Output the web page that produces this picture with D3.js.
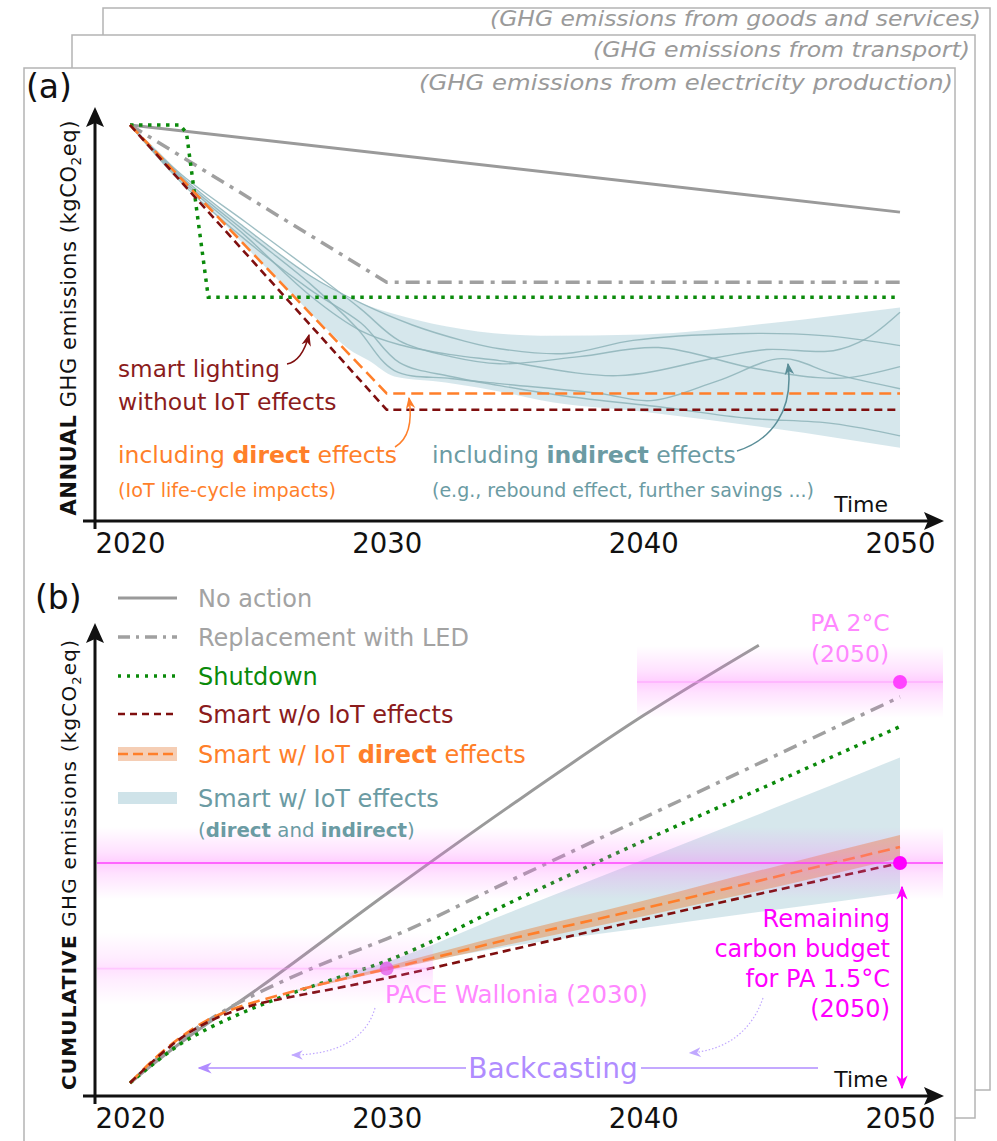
<!DOCTYPE html>
<html>
<head>
<meta charset="utf-8">
<script src="https://d3js.org/d3.v7.min.js"></script>
<style>
body { margin: 0; background: #fff; }
text { font-family: "DejaVu Sans", Verdana, sans-serif; }
.hdr { font-style: italic; fill: #9a9a9a; font-size: 22px; }
</style>
</head>
<body>
<svg width="997" height="1141"></svg>
<script>

// ---- data ----
var tickYears = [2020, 2030, 2040, 2050];
var layerTitles = ["(GHG emissions from goods and services)", "(GHG emissions from transport)", "(GHG emissions from electricity production)"];

// (a) annual emissions, index 2020 = 100
var noActionA = [[2020, 100], [2050, 78]];
var ledA = [[2020, 100], [2030, 60.3], [2050, 60.3]];
var shutdownA = [[2020, 100], [2021.95, 100], [2022.2, 98], [2023.05, 56.5], [2050, 56.5]];
var smartA = [[2020, 100], [2030, 28.1], [2050, 28.1]];
var directA = [[2020, 100], [2030, 32.2], [2050, 32.2]];
var bandYearsA = [2020, 2021, 2022.7, 2024.7, 2026.2, 2027.5, 2028.5, 2029.3, 2030.3, 2032.3, 2034.8, 2036, 2040, 2045, 2050];
var bandUpperA = [100, 94, 83, 73, 65.5, 60.2, 56.3, 54.3, 52.3, 49.2, 47.1, 46.8, 47.1, 50, 53.9];
var bandLowerA = [100, 93, 81.7, 68, 58, 49.5, 43.5, 40.5, 36.5, 35, 32.2, 30.5, 27.6, 23.4, 18.5];
var indirectA = [
  [[2020, 100], [2022, 87], [2024.5, 74], [2027, 62], [2029, 55], [2031, 49.5], [2033, 45.5], [2034.4, 43.5], [2037, 42.3], [2039.6, 45.6], [2043.5, 47.3], [2047, 46.8], [2050, 44.3]],
  [[2020, 100], [2022, 86], [2024.5, 72], [2027, 57], [2029, 48], [2030.5, 44.5], [2032.5, 42], [2034.4, 40.5], [2039, 36.7], [2042.9, 41.3], [2044.8, 43.3], [2047.4, 43], [2048.7, 46.1], [2050, 52.7]],
  [[2020, 100], [2022, 87.5], [2024.5, 75.5], [2027, 63.5], [2029, 53.5], [2030.5, 45.5], [2032.5, 41.5], [2034.4, 39.7], [2037.5, 41.5], [2040.6, 43.8], [2044.2, 38.7], [2046.8, 36.2], [2048, 36.2], [2050, 39]],
  [[2020, 100], [2022, 86.5], [2024.5, 73], [2027, 60], [2028.8, 49], [2030.3, 38], [2032.5, 36], [2034.4, 34.7], [2038.3, 32.2], [2040.3, 30.4], [2042.9, 35.4], [2045.4, 41], [2047.4, 37.2], [2050, 33.4]],
  [[2020, 100], [2022, 85.5], [2024.5, 71], [2027, 58.5], [2029, 50], [2030.5, 40], [2032.5, 36.5], [2034.4, 34.2], [2037, 31.5], [2040.9, 28.6], [2044, 26], [2047.4, 24.6], [2050, 21.5]]
];

// (b) cumulative emissions, PA 1.5°C budget = 100
var noActionYears = [2020, 2021, 2022, 2025, 2030, 2035, 2040, 2044.5];
var noActionCum = [0, 9.5, 18.5, 43, 86, 127.5, 167, 199];
var yearsB = [2020, 2021, 2022, 2023, 2024, 2025, 2026, 2028, 2030, 2035, 2040, 2045, 2050];
var ledCum = [0, 10.5, 20, 28, 35, 41, 46.5, 56.5, 65.5, 93, 120.5, 148, 175.5];
var shutdownCum = [0, 9.5, 18, 24.5, 30, 35, 39.5, 47.5, 55.5, 83, 110, 136, 162];
var smartCum = [0, 11, 20.5, 27.5, 32.5, 36, 38.5, 43, 47.7, 61, 74.3, 87.2, 100];
var directCum = [0, 11.5, 21, 28.5, 33.5, 37.3, 40.5, 46.5, 51.8, 66, 79.3, 93.3, 107.3];
var directBandYears = [2026, 2030, 2035, 2040, 2045, 2050];
var directLow = [40.5, 51, 63.5, 75.8, 88.6, 102.3];
var directHigh = [40.5, 53, 68.5, 82.8, 98, 112.7];
var bandYearsB = [2026, 2028, 2030, 2035, 2040, 2045, 2050];
var bandUpperB = [40.5, 48, 55, 78.5, 101.5, 124.5, 148];
var bandLowerB = [40.5, 46.5, 51.5, 62.5, 70.5, 78.5, 86.4];
var targets = { pa15: 100, pa2: 182.3, pace: 52 };

var legendLabels = ["No action", "Replacement with LED", "Shutdown", "Smart w/o IoT effects", "Smart w/ IoT direct effects", "Smart w/ IoT effects"];

// ---- styles ----
var C = {
  grey: "#9a9a9a", greyTxt: "#a3a3a3", green: "#0a8a0a", red: "#7f0f0f", redTxt: "#8b1c1c",
  orange: "#ff7f2a", teal: "#6b9ba3", band: "#cfe3e9", thin: "#8db3b9",
  mag: "#ff00ff", pink: "#ff88ff", lav: "#b08cff"
};

var svg = d3.select("svg");
var defs = svg.append("defs");

function marker(id, color, size) {
  defs.append("marker").attr("id", id).attr("viewBox", "0 0 10 10")
    .attr("refX", 9).attr("refY", 5).attr("markerWidth", size).attr("markerHeight", size)
    .attr("orient", "auto-start-reverse").attr("markerUnits", "userSpaceOnUse")
    .append("path").attr("d", "M0,1 L10,5 L0,9 L3,5 Z").attr("fill", color);
}
marker("mRed", C.red, 12);
marker("mOrange", C.orange, 12);
marker("mTeal", "#5a8e98", 12);
marker("mLav", C.lav, 14);
marker("mLavS", "#c0a8ff", 12);
marker("mMag", C.mag, 14);

function glow(id, op) {
  var g = defs.append("linearGradient").attr("id", id).attr("x1", 0).attr("x2", 0).attr("y1", 0).attr("y2", 1);
  g.append("stop").attr("offset", "0%").attr("stop-color", "#ff66ff").attr("stop-opacity", 0);
  g.append("stop").attr("offset", "35%").attr("stop-color", "#ff66ff").attr("stop-opacity", op * 0.6);
  g.append("stop").attr("offset", "50%").attr("stop-color", "#ff66ff").attr("stop-opacity", op);
  g.append("stop").attr("offset", "65%").attr("stop-color", "#ff66ff").attr("stop-opacity", op * 0.6);
  g.append("stop").attr("offset", "100%").attr("stop-color", "#ff66ff").attr("stop-opacity", 0);
}
glow("gStrong", 0.32);
glow("gWeak", 0.2);

// stacked layer frames: x, y, w, h, title end x, title baseline, title length
var frames = [[103, 8, 887, 1082, 981, 26, 491], [72, 35, 903, 1083, 970, 57, 377], [24, 68, 931, 1100, 953, 90, 534]];
frames.forEach(function(f, i) {
  svg.append("rect").attr("x", f[0]).attr("y", f[1]).attr("width", f[2]).attr("height", f[3])
    .attr("fill", "#fff").attr("stroke", "#b4b4b4").attr("stroke-width", 1.5);
  svg.append("text").attr("class", "hdr").attr("x", f[4] - f[6]).attr("y", f[5])
    .attr("textLength", f[6]).attr("lengthAdjust", "spacingAndGlyphs").text(layerTitles[i]);
});

// ---- scales ----
var x = d3.scaleLinear().domain([2020, 2050]).range([130, 900]);
var yA = d3.scaleLinear().domain([0, 100]).range([521, 125]);
var yB = d3.scaleLinear().domain([0, 100]).range([1083, 863]);

function pairLine(ys, curve) {
  return d3.line().x(function(d) { return x(d[0]); }).y(function(d) { return ys(d[1]); }).curve(curve || d3.curveLinear);
}
function zip(a, b) { return a.map(function(v, i) { return [v, b[i]]; }); }

function drawAxes(y0, top, label, boldWord, midY, labLen, labSize) {
  var g = svg.append("g");
  g.append("g").attr("transform", "translate(0," + y0 + ")")
    .call(d3.axisBottom(x).tickValues(tickYears).tickFormat(d3.format("d")).tickSize(0).tickPadding(12))
    .call(function(s) { s.select(".domain").remove(); })
    .selectAll("text").attr("font-size", 27.5).attr("fill", "#111")
    .attr("font-family", "DejaVu Sans, sans-serif");
  g.append("line").attr("x1", 83).attr("x2", 930).attr("y1", y0).attr("y2", y0).attr("stroke", "#111").attr("stroke-width", 3);
  g.append("path").attr("d", "M944," + y0 + " L924," + (y0 - 9) + " L928," + y0 + " L924," + (y0 + 9) + " Z").attr("fill", "#111");
  g.append("line").attr("x1", 95).attr("x2", 95).attr("y1", y0 + 8).attr("y2", top + 12).attr("stroke", "#111").attr("stroke-width", 3);
  g.append("path").attr("d", "M95," + top + " L86," + (top + 20) + " L95," + (top + 16) + " L104," + (top + 20) + " Z").attr("fill", "#111");
  g.append("text").attr("x", 888).attr("y", y0 - 9).attr("text-anchor", "end").attr("font-size", 22).attr("fill", "#111").text("Time");
  var t = g.append("text").attr("transform", "translate(76," + (midY + labLen / 2) + ") rotate(-90)")
    .attr("font-size", labSize).attr("fill", "#111")
    .attr("textLength", labLen).attr("lengthAdjust", "spacing");
  t.append("tspan").attr("font-weight", "bold").text(boldWord);
  t.append("tspan").text(label);
  t.append("tspan").attr("font-size", labSize * 0.65).attr("dy", 5).text("2");
  t.append("tspan").attr("dy", -5).text("eq)");
}

// ---- panel (a) ----
svg.append("text").attr("x", 26).attr("y", 98).attr("font-size", 33).attr("fill", "#111").text("(a)");
drawAxes(521, 107, " GHG emissions (kgCO", "ANNUAL", 318, 395, 21);

var gA = svg.append("g");
gA.append("path")
  .datum(bandYearsA.map(function(yr, i) { return { yr: yr, lo: bandLowerA[i], hi: bandUpperA[i] }; }))
  .attr("d", d3.area().x(function(d) { return x(d.yr); }).y0(function(d) { return yA(d.lo); }).y1(function(d) { return yA(d.hi); }).curve(d3.curveMonotoneX))
  .attr("fill", C.band).attr("opacity", 0.85);
gA.selectAll(".thin").data(indirectA).enter().append("path")
  .attr("d", pairLine(yA, d3.curveCatmullRom.alpha(0.5)))
  .attr("fill", "none").attr("stroke", C.thin).attr("stroke-width", 1.4).attr("opacity", 0.85);

gA.append("path").attr("d", pairLine(yA)(noActionA)).attr("fill", "none").attr("stroke", C.grey).attr("stroke-width", 3);
gA.append("path").attr("d", pairLine(yA)(ledA)).attr("fill", "none").attr("stroke", "#a0a0a0").attr("stroke-width", 3.5).attr("stroke-dasharray", "14,7,4,7");
gA.append("path").attr("d", pairLine(yA)(shutdownA)).attr("fill", "none").attr("stroke", C.green).attr("stroke-width", 3.5).attr("stroke-dasharray", "3.5,5.5");
gA.append("path").attr("d", pairLine(yA)(directA)).attr("fill", "none").attr("stroke", C.orange).attr("stroke-width", 2.6).attr("stroke-dasharray", "12,6");
gA.append("path").attr("d", pairLine(yA)(smartA)).attr("fill", "none").attr("stroke", C.red).attr("stroke-width", 2.6).attr("stroke-dasharray", "8,5");

// annotations (a)
var ann = svg.append("g").attr("font-size", 23.5);
ann.append("text").attr("x", 118).attr("y", 377).attr("fill", C.redTxt)
  .attr("textLength", 162).attr("lengthAdjust", "spacingAndGlyphs").text("smart lighting");
ann.append("text").attr("x", 118).attr("y", 410).attr("fill", C.redTxt).text("without IoT effects");
ann.append("path").attr("d", "M287,364 C298,362 305,350 309,335").attr("fill", "none").attr("stroke", C.red).attr("stroke-width", 1.5).attr("marker-end", "url(#mRed)");

var t1 = ann.append("text").attr("x", 118).attr("y", 463).attr("fill", C.orange);
t1.append("tspan").text("including ");
t1.append("tspan").attr("font-weight", "bold").text("direct");
t1.append("tspan").text(" effects");
ann.append("text").attr("x", 118).attr("y", 497).attr("font-size", 19.2).attr("fill", C.orange).text("(IoT life-cycle impacts)");
ann.append("path").attr("d", "M395,447 C407,440 413,425 409,398").attr("fill", "none").attr("stroke", C.orange).attr("stroke-width", 1.5).attr("marker-end", "url(#mOrange)");

var t2 = ann.append("text").attr("x", 432).attr("y", 463).attr("fill", C.teal);
t2.append("tspan").text("including ");
t2.append("tspan").attr("font-weight", "bold").text("indirect");
t2.append("tspan").text(" effects");
ann.append("text").attr("x", 432).attr("y", 497).attr("font-size", 19).attr("fill", C.teal).text("(e.g., rebound effect, further savings ...)");
ann.append("path").attr("d", "M737,451 C772,440 794,410 788,364").attr("fill", "none").attr("stroke", "#5a8e98").attr("stroke-width", 1.5).attr("marker-end", "url(#mTeal)");

// ---- panel (b) ----
svg.append("text").attr("x", 35).attr("y", 609).attr("font-size", 33).attr("fill", "#111").text("(b)");
drawAxes(1096, 623, " GHG emissions (kgCO", "CUMULATIVE", 865, 450, 20);

var gB = svg.append("g");
gB.append("path")
  .datum(bandYearsB.map(function(yr, i) { return { yr: yr, lo: bandLowerB[i], hi: bandUpperB[i] }; }))
  .attr("d", d3.area().x(function(d) { return x(d.yr); }).y0(function(d) { return yB(d.lo); }).y1(function(d) { return yB(d.hi); }).curve(d3.curveMonotoneX))
  .attr("fill", C.band).attr("opacity", 0.85);
gB.append("path")
  .datum(directBandYears.map(function(yr, i) { return { yr: yr, lo: directLow[i], hi: directHigh[i] }; }))
  .attr("d", d3.area().x(function(d) { return x(d.yr); }).y0(function(d) { return yB(d.lo); }).y1(function(d) { return yB(d.hi); }).curve(d3.curveMonotoneX))
  .attr("fill", "#e8935a").attr("opacity", 0.55);

var curveB = d3.curveMonotoneX;
gB.append("path").attr("d", pairLine(yB, curveB)(zip(noActionYears, noActionCum))).attr("fill", "none").attr("stroke", C.grey).attr("stroke-width", 3);
gB.append("path").attr("d", pairLine(yB, curveB)(zip(yearsB, ledCum))).attr("fill", "none").attr("stroke", "#a0a0a0").attr("stroke-width", 3.5).attr("stroke-dasharray", "14,7,4,7");
gB.append("path").attr("d", pairLine(yB, curveB)(zip(yearsB, shutdownCum))).attr("fill", "none").attr("stroke", C.green).attr("stroke-width", 3.5).attr("stroke-dasharray", "3.5,5.5");
gB.append("path").attr("d", pairLine(yB, curveB)(zip(yearsB, directCum))).attr("fill", "none").attr("stroke", C.orange).attr("stroke-width", 2.6).attr("stroke-dasharray", "12,6");
gB.append("path").attr("d", pairLine(yB, curveB)(zip(yearsB, smartCum))).attr("fill", "none").attr("stroke", C.red).attr("stroke-width", 2.6).attr("stroke-dasharray", "8,5");

// target glows (on top, translucent)
function target(x0, x1, val, grad, lineColor, lineOp) {
  var yy = yB(val);
  gB.append("rect").attr("x", x0).attr("width", x1 - x0).attr("y", yy - 36).attr("height", 72).attr("fill", "url(#" + grad + ")");
  gB.append("line").attr("x1", x0).attr("x2", x1).attr("y1", yy).attr("y2", yy).attr("stroke", lineColor).attr("stroke-opacity", lineOp).attr("stroke-width", 1.6);
}
target(97, 943, targets.pa15, "gStrong", "#ff33ff", 0.9);
target(637, 943, targets.pa2, "gStrong", "#ff99ff", 0.6);
target(97, x(2031.8), targets.pace, "gWeak", "#ff99ff", 0.35);

gB.append("circle").attr("cx", x(2050)).attr("cy", yB(targets.pa15)).attr("r", 7).attr("fill", C.mag);
gB.append("circle").attr("cx", x(2050)).attr("cy", yB(targets.pa2)).attr("r", 7).attr("fill", "#ff44ff");
gB.append("circle").attr("cx", x(2030)).attr("cy", yB(targets.pace)).attr("r", 7).attr("fill", "#e050e8").attr("opacity", 0.7);

// budget arrow
gB.append("line").attr("x1", x(2050) + 2).attr("x2", x(2050) + 2).attr("y1", yB(targets.pa15) + 24).attr("y2", 1088)
  .attr("stroke", C.mag).attr("stroke-width", 2).attr("marker-start", "url(#mMag)").attr("marker-end", "url(#mMag)");

var bt = svg.append("g").attr("font-size", 24).attr("fill", C.mag).attr("text-anchor", "end");
["Remaining", "carbon budget", "for PA 1.5°C", "(2050)"].forEach(function(s, i) {
  bt.append("text").attr("x", 890).attr("y", 927 + i * 30).text(s);
});
var pt = svg.append("g").attr("font-size", 23.5).attr("fill", C.pink).attr("text-anchor", "middle");
pt.append("text").attr("x", 850).attr("y", 631).text("PA 2°C");
pt.append("text").attr("x", 850).attr("y", 662).text("(2050)");
svg.append("text").attr("x", 385).attr("y", 1003).attr("font-size", 24.5).attr("fill", C.pink).text("PACE Wallonia (2030)");

// backcasting
svg.append("text").attr("x", 553).attr("y", 1078).attr("text-anchor", "middle").attr("font-size", 28).attr("fill", C.lav).text("Backcasting");
svg.append("line").attr("x1", 466).attr("x2", 199).attr("y1", 1068).attr("y2", 1068).attr("stroke", C.lav).attr("stroke-width", 1.6).attr("marker-end", "url(#mLav)");
svg.append("line").attr("x1", 641).attr("x2", 818).attr("y1", 1068).attr("y2", 1068).attr("stroke", C.lav).attr("stroke-width", 1.6);
svg.append("path").attr("d", "M375,1008 C366,1040 335,1055 292,1055").attr("fill", "none").attr("stroke", "#c0a8ff").attr("stroke-width", 1.2).attr("stroke-dasharray", "1.5,2").attr("marker-end", "url(#mLavS)");
svg.append("path").attr("d", "M763,998 C752,1030 728,1050 690,1053").attr("fill", "none").attr("stroke", "#c0a8ff").attr("stroke-width", 1.2).attr("stroke-dasharray", "1.5,2").attr("marker-end", "url(#mLavS)");

// ---- legend ----
var lg = svg.append("g");
var rowsY = [598, 637, 676, 714, 754, 798];
var legendStyle = [
  { c: C.grey, w: 3, d: null, tc: C.greyTxt },
  { c: "#a0a0a0", w: 3.5, d: "12,6,3,6", tc: C.greyTxt },
  { c: C.green, w: 3.5, d: "3,6", tc: C.green },
  { c: C.red, w: 2.6, d: "7,5", tc: C.redTxt },
  { c: C.orange, w: 2.6, d: "10,5", tc: C.orange },
  { c: C.band, w: 12, d: null, tc: C.teal }
];
legendLabels.forEach(function(lbl, i) {
  var st = legendStyle[i];
  if (i === 4) lg.append("rect").attr("x", 118).attr("y", rowsY[i] - 7).attr("width", 59).attr("height", 14).attr("fill", "#e8935a").attr("opacity", 0.45);
  lg.append("line").attr("x1", 118).attr("x2", 177).attr("y1", rowsY[i]).attr("y2", rowsY[i])
    .attr("stroke", st.c).attr("stroke-width", st.w).attr("stroke-dasharray", st.d);
  var t = lg.append("text").attr("x", 198).attr("y", rowsY[i] + 9).attr("font-size", 24).attr("fill", st.tc);
  if (i === 4) {
    t.append("tspan").text("Smart w/ IoT ");
    t.append("tspan").attr("font-weight", "bold").text("direct");
    t.append("tspan").text(" effects");
  } else t.text(lbl);
});
var sub = lg.append("text").attr("x", 198).attr("y", 837).attr("font-size", 19.8).attr("fill", C.teal);
sub.append("tspan").text("(");
sub.append("tspan").attr("font-weight", "bold").text("direct");
sub.append("tspan").text(" and ");
sub.append("tspan").attr("font-weight", "bold").text("indirect");
sub.append("tspan").text(")");

</script>
</body>
</html>
